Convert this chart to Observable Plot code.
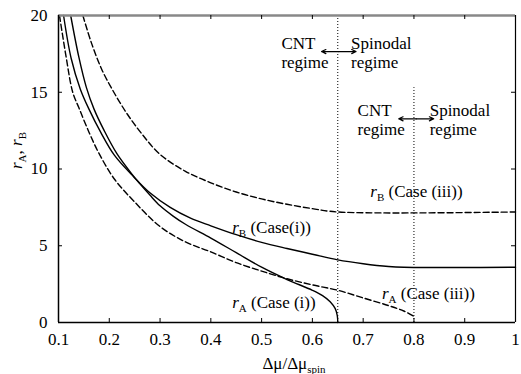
<!DOCTYPE html>
<html><head><meta charset="utf-8">
<script src="https://cdn.jsdelivr.net/npm/d3@7"></script>
<script src="https://cdn.jsdelivr.net/npm/@observablehq/plot@0.6"></script>
<style>html,body{margin:0;padding:0;background:#fff} svg{display:block}</style>
</head><body><div id="chart"></div>
<script>
// ---- data ----
const xTicks = [0.1, 0.2, 0.3, 0.4, 0.5, 0.6, 0.7, 0.8, 0.9, 1];
const yTicks = [0, 5, 10, 15, 20];
const xInnerTicks = [0.2, 0.3, 0.4, 0.5, 0.6, 0.7, 0.8, 0.9];
const yInnerTicks = [5, 10, 15];

// r_A (Case (i)) — solid
const rA_i_x = [0.124, 0.14, 0.155, 0.17, 0.19, 0.215, 0.245, 0.26, 0.28, 0.30, 0.325, 0.35, 0.40, 0.45, 0.50, 0.55, 0.60, 0.62, 0.635, 0.645, 0.649, 0.65];
const rA_i_y = [20, 17.3, 15.3, 13.9, 12.5, 11.0, 9.65, 9.05, 8.3, 7.6, 6.95, 6.4, 5.5, 4.55, 3.6, 2.8, 2.1, 1.75, 1.35, 0.9, 0.45, 0];
// r_B (Case(i)) — solid
const rB_i_x = [0.110, 0.125, 0.143, 0.16, 0.183, 0.21, 0.245, 0.28, 0.32, 0.36, 0.40, 0.45, 0.50, 0.55, 0.60, 0.65, 0.70, 0.75, 0.78, 1.0];
const rB_i_y = [20, 17.2, 15.2, 13.9, 12.4, 10.9, 9.6, 8.45, 7.5, 6.8, 6.3, 5.72, 5.22, 4.82, 4.45, 4.08, 3.83, 3.65, 3.6, 3.6];
// r_A (Case (iii)) — dashed
const rA_iii_x = [0.102, 0.115, 0.128, 0.14, 0.16, 0.18, 0.21, 0.25, 0.30, 0.35, 0.40, 0.45, 0.50, 0.55, 0.60, 0.65, 0.70, 0.75, 0.78, 0.80];
const rA_iii_y = [20, 17.3, 15.0, 14.0, 12.4, 11.0, 9.35, 7.85, 6.25, 5.25, 4.6, 3.9, 3.35, 2.85, 2.45, 2.1, 1.6, 1.1, 0.75, 0.4];
// r_B (Case (iii)) — dashed
const rB_iii_x = [0.148, 0.165, 0.185, 0.209, 0.235, 0.265, 0.30, 0.35, 0.40, 0.45, 0.50, 0.55, 0.60, 0.65, 1.0];
const rB_iii_y = [20, 18.2, 16.5, 15.0, 13.6, 12.25, 10.95, 9.85, 9.1, 8.5, 8.05, 7.7, 7.42, 7.2, 7.2];

// regime boundaries (dotted)
const boundX = [0.65, 0.8];
const boundTop = [20, 15.3];

// curve labels
const labelText = ["r_B (Case(i))", "r_A (Case (i))", "r_A (Case (iii))", "r_B (Case (iii))"];
const labelX = [0.442, 0.442, 0.737, 0.714];
const labelY = [6.19, 1.30, 1.89, 8.55];

// regime annotations
const noteText = ["CNT\nregime", "Spinodal\nregime", "CNT\nregime", "Spinodal\nregime"];
const noteX = [0.539, 0.676, 0.689, 0.831];
const noteY = [17.58, 17.58, 13.21, 13.21];
const arrowX1 = [0.618, 0.770];
const arrowX2 = [0.686, 0.839];
const arrowY = [17.65, 13.27];

// ---- build ----
const FONT = "'Liberation Serif', 'Times New Roman', serif";
const toRows = (xs, ys) => xs.map((x, i) => ({x, y: ys[i]}));
const solid = {x: "x", y: "y", stroke: "black", strokeWidth: 1.4, curve: "catmull-rom"};
const dashed = {...solid, strokeDasharray: "6,3"};
const arrowRows = arrowX1.flatMap((x1, i) => {
  const m = (x1 + arrowX2[i]) / 2;
  return [{x1: m, x2: x1, y: arrowY[i]}, {x1: m, x2: arrowX2[i], y: arrowY[i]}];
});
const frameH = 374 - 15 - 52, frameW = 521 - 58 - 6;

const chart = Plot.plot({
  width: 521, height: 374,
  marginLeft: 58, marginRight: 6, marginTop: 15, marginBottom: 52,
  style: {fontFamily: FONT, fontSize: "17px", color: "black", background: "white"},
  x: {domain: [0.1, 1]},
  y: {domain: [0, 20]},
  marks: [
    Plot.ruleX(boundX.map((x, i) => ({x, top: boundTop[i]})), {x: "x", y1: 0, y2: "top", stroke: "black", strokeWidth: 1, strokeDasharray: "1,2"}),
    Plot.line(toRows(rA_iii_x, rA_iii_y), dashed),
    Plot.line(toRows(rB_iii_x, rB_iii_y), dashed),
    Plot.line(toRows(rA_i_x, rA_i_y), solid),
    Plot.line(toRows(rB_i_x, rB_i_y), solid),
    Plot.ruleY([20], {stroke: "#888", strokeWidth: 2.5}),
    Plot.ruleX([1], {stroke: "black", strokeWidth: 1.2}),
    Plot.ruleX([0.1], {stroke: "black", strokeWidth: 1.5}),
    Plot.ruleY([0], {stroke: "black", strokeWidth: 1.5}),
    Plot.tickX(xInnerTicks, {x: d => d, insetTop: frameH - 4, stroke: "black"}),
    Plot.tickX(xInnerTicks, {x: d => d, insetBottom: frameH - 4, stroke: "black"}),
    Plot.tickY(yInnerTicks, {y: d => d, insetRight: frameW - 4, stroke: "black"}),
    Plot.tickY(yInnerTicks, {y: d => d, insetLeft: frameW - 4, stroke: "black"}),
    Plot.axisX(xTicks, {anchor: "bottom", tickSize: 0, tickPadding: 10, tickFormat: d => String(d), label: null}),
    Plot.axisY(yTicks, {anchor: "left", tickSize: 0, tickPadding: 11, label: null}),
    Plot.text(labelText.map((t, i) => ({t, x: labelX[i], y: labelY[i]})), {x: "x", y: "y", text: "t", textAnchor: "start", lineAnchor: "middle", fill: "black"}),
    Plot.text(noteText.map((t, i) => ({t, x: noteX[i], y: noteY[i]})), {x: "x", y: "y", text: "t", textAnchor: "start", lineAnchor: "middle", lineHeight: 1.12, fill: "black"}),
    Plot.arrow(arrowRows, {x1: "x1", x2: "x2", y1: "y", y2: "y", stroke: "black", strokeWidth: 1.2, headLength: 6, headAngle: 50}),
    Plot.text(["Δμ/Δμ_spin"], {frameAnchor: "bottom", dy: 41, dx: 7, lineAnchor: "middle", fill: "black"}),
    Plot.text(["r_A, r_B"], {frameAnchor: "left", dx: -42, rotate: -90, lineAnchor: "middle", fill: "black"})
  ]
});

// subscripts / italics
const NS = "http://www.w3.org/2000/svg";
function richify(el) {
  const s = el.textContent;
  if (!s.includes("_")) return;
  while (el.firstChild) el.removeChild(el.firstChild);
  const parts = s.split(/(r_[AB]|_spin)/);
  let shifted = false;
  const add = (txt, attrs) => {
    const t = document.createElementNS(NS, "tspan");
    for (const k in attrs) t.setAttribute(k, attrs[k]);
    t.textContent = txt;
    el.appendChild(t);
  };
  for (const p of parts) {
    if (!p) continue;
    if (/^r_[AB]$/.test(p)) {
      add("r", shifted ? {"font-style": "italic", dy: "-4"} : {"font-style": "italic"});
      add(p[2], {"font-size": "11px", dy: "4"});
      shifted = true;
    } else if (p === "_spin") {
      add("spin", {"font-size": "11px", dy: "4"});
      shifted = true;
    } else {
      add(p, shifted ? {dy: "-4"} : {});
      shifted = false;
    }
  }
}
chart.querySelectorAll("text").forEach(el => {
  if (el.querySelector("tspan")) return;
  richify(el);
});
document.getElementById("chart").appendChild(chart);
</script></body></html>
